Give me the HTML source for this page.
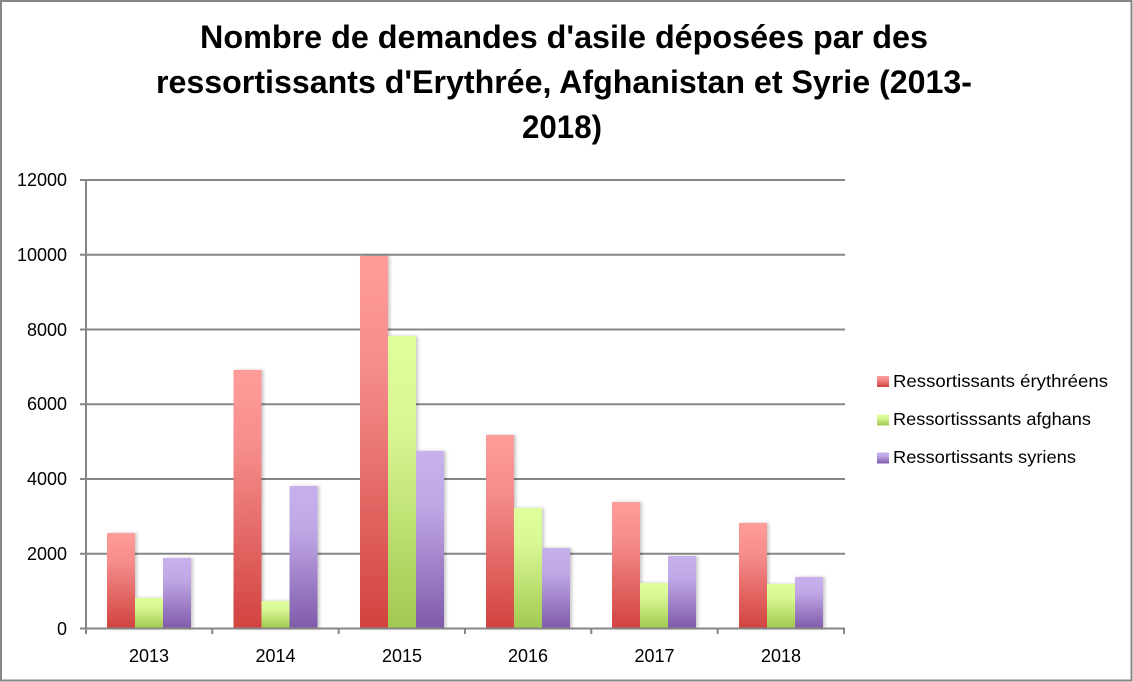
<!DOCTYPE html>
<html>
<head>
<meta charset="utf-8">
<style>
  html, body { margin: 0; padding: 0; background: #ffffff; }
  svg { display: block; }
  text { font-family: "Liberation Sans", "DejaVu Sans", sans-serif; fill: #000; }
</style>
</head>
<body>
<svg width="1133" height="682" viewBox="0 0 1133 682" xmlns="http://www.w3.org/2000/svg">
  <defs>
    <linearGradient id="gR" x1="0" y1="0" x2="0" y2="1">
      <stop offset="0" stop-color="#FF9C9A"/>
      <stop offset="0.3" stop-color="#F58D8B"/>
      <stop offset="1" stop-color="#D1423F"/>
    </linearGradient>
    <linearGradient id="gG" x1="0" y1="0" x2="0" y2="1">
      <stop offset="0" stop-color="#DEFF9C"/>
      <stop offset="0.3" stop-color="#D8F894"/>
      <stop offset="1" stop-color="#A2C850"/>
    </linearGradient>
    <linearGradient id="gP" x1="0" y1="0" x2="0" y2="1">
      <stop offset="0" stop-color="#C8B0EC"/>
      <stop offset="0.3" stop-color="#C0A8E6"/>
      <stop offset="1" stop-color="#7F5AAA"/>
    </linearGradient>
    <filter id="sh" x="-20%" y="-5%" width="150%" height="110%">
      <feDropShadow dx="2" dy="0" stdDeviation="1.5" flood-color="#000" flood-opacity="0.22"/>
    </filter>
  </defs>

  <!-- outer border -->
  <rect x="1" y="1" width="1130.5" height="679.5" fill="#fff" stroke="#868686" stroke-width="2"/>

  <!-- title -->
  <text x="564" y="48" text-anchor="middle" font-size="32" font-weight="bold" textLength="728" lengthAdjust="spacingAndGlyphs">Nombre de demandes d'asile déposées par des</text>
  <text x="564" y="93" text-anchor="middle" font-size="32" font-weight="bold" textLength="816" lengthAdjust="spacingAndGlyphs">ressortissants d'Erythrée, Afghanistan et Syrie (2013-</text>
  <text x="562" y="138" text-anchor="middle" font-size="32" font-weight="bold" textLength="80" lengthAdjust="spacingAndGlyphs">2018)</text>

  <!-- gridlines -->
  <g stroke="#868686" stroke-width="2">
    <line x1="80" y1="180" x2="845" y2="180"/>
    <line x1="80" y1="254.75" x2="845" y2="254.75"/>
    <line x1="80" y1="329.5" x2="845" y2="329.5"/>
    <line x1="80" y1="404.25" x2="845" y2="404.25"/>
    <line x1="80" y1="479" x2="845" y2="479"/>
    <line x1="80" y1="553.75" x2="845" y2="553.75"/>
  </g>

  <!-- y labels -->
  <g font-size="18" text-anchor="end">
    <text x="67" y="186">12000</text>
    <text x="67" y="261">10000</text>
    <text x="67" y="336">8000</text>
    <text x="67" y="410">6000</text>
    <text x="67" y="485">4000</text>
    <text x="67" y="560">2000</text>
    <text x="67" y="635">0</text>
  </g>

  <!-- bars -->
  <g filter="url(#sh)">
    <!-- 2013 -->
    <rect x="107" y="533" width="28" height="95.5" fill="url(#gR)"/>
    <rect x="135" y="598" width="28" height="30.5" fill="url(#gG)"/>
    <rect x="163" y="558" width="28" height="70.5" fill="url(#gP)"/>
    <!-- 2014 -->
    <rect x="233.5" y="370" width="28" height="258.5" fill="url(#gR)"/>
    <rect x="261.5" y="601" width="28" height="27.5" fill="url(#gG)"/>
    <rect x="289.5" y="486" width="28" height="142.5" fill="url(#gP)"/>
    <!-- 2015 -->
    <rect x="360" y="256" width="28" height="372.5" fill="url(#gR)"/>
    <rect x="388" y="336" width="28" height="292.5" fill="url(#gG)"/>
    <rect x="416" y="451" width="28" height="177.5" fill="url(#gP)"/>
    <!-- 2016 -->
    <rect x="486" y="435" width="28" height="193.5" fill="url(#gR)"/>
    <rect x="514" y="508" width="28" height="120.5" fill="url(#gG)"/>
    <rect x="542" y="548" width="28" height="80.5" fill="url(#gP)"/>
    <!-- 2017 -->
    <rect x="612" y="502" width="28" height="126.5" fill="url(#gR)"/>
    <rect x="640" y="583" width="28" height="45.5" fill="url(#gG)"/>
    <rect x="668" y="556" width="28" height="72.5" fill="url(#gP)"/>
    <!-- 2018 -->
    <rect x="739" y="523" width="28" height="105.5" fill="url(#gR)"/>
    <rect x="767" y="584" width="28" height="44.5" fill="url(#gG)"/>
    <rect x="795" y="577" width="28" height="51.5" fill="url(#gP)"/>
  </g>

  <!-- axes -->
  <g stroke="#868686" stroke-width="2">
    <line x1="86" y1="180" x2="86" y2="634"/>
    <line x1="80" y1="628.5" x2="845" y2="628.5"/>
    <line x1="212.3" y1="628" x2="212.3" y2="634"/>
    <line x1="338.7" y1="628" x2="338.7" y2="634"/>
    <line x1="465" y1="628" x2="465" y2="634"/>
    <line x1="591.3" y1="628" x2="591.3" y2="634"/>
    <line x1="717.7" y1="628" x2="717.7" y2="634"/>
    <line x1="844" y1="628" x2="844" y2="634"/>
  </g>

  <!-- x labels -->
  <g font-size="18" text-anchor="middle">
    <text x="149" y="662">2013</text>
    <text x="275.5" y="662">2014</text>
    <text x="402" y="662">2015</text>
    <text x="528" y="662">2016</text>
    <text x="654.5" y="662">2017</text>
    <text x="781" y="662">2018</text>
  </g>

  <!-- legend -->
  <rect x="877" y="376" width="12" height="11" fill="url(#gR)"/>
  <rect x="877" y="414.5" width="12" height="11" fill="url(#gG)"/>
  <rect x="877" y="452.5" width="12" height="11" fill="url(#gP)"/>
  <g font-size="17.5">
    <text x="893" y="387" textLength="215" lengthAdjust="spacingAndGlyphs">Ressortissants érythréens</text>
    <text x="893" y="425" textLength="198" lengthAdjust="spacingAndGlyphs">Ressortisssants afghans</text>
    <text x="893" y="463" textLength="183" lengthAdjust="spacingAndGlyphs">Ressortissants syriens</text>
  </g>
</svg>
</body>
</html>
